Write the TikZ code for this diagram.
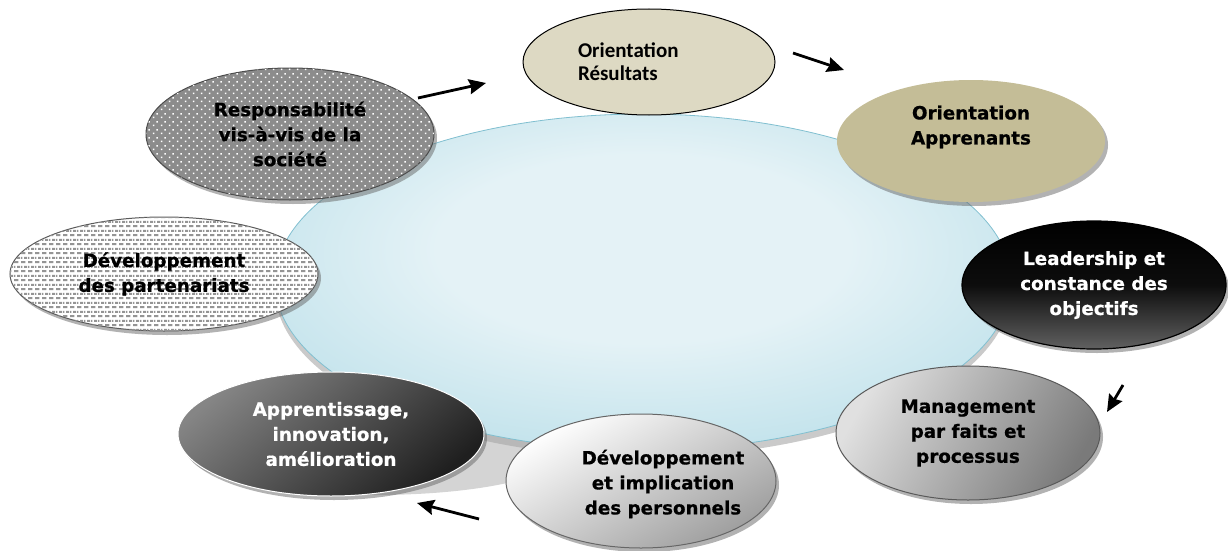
\documentclass[tikz,border=0pt]{standalone}
\usepackage{fontspec}
\setmainfont{DejaVu Sans}[BoldFeatures={FakeBold=0.7}]
\newfontfamily\calibri{Carlito}
\usetikzlibrary{shapes.geometric,shadows,patterns,arrows.meta}

\definecolor{hubIn}{HTML}{E4F2F6}
\definecolor{hubOut}{HTML}{97CFDE}
\definecolor{hubRim}{HTML}{80BFD0}
\definecolor{tanLight}{HTML}{DDD9C3}
\definecolor{tanDark}{HTML}{C4BD97}

\pgfdeclareradialshading{hubshade}{\pgfpoint{0bp}{6bp}}{color(0bp)=(hubIn); color(14bp)=(hubIn); color(50bp)=(hubOut); color(80bp)=(hubOut)}

% rows of short dashes, staggered
\pgfdeclarepatternformonly{dashbrick}{\pgfpointorigin}{\pgfpoint{7pt}{8.6pt}}{\pgfpoint{7pt}{8.6pt}}{
  \pgfpathrectangle{\pgfpoint{0pt}{1pt}}{\pgfpoint{5pt}{2pt}}
  \pgfpathrectangle{\pgfpoint{3.5pt}{5.3pt}}{\pgfpoint{3.5pt}{2pt}}
  \pgfpathrectangle{\pgfpoint{0pt}{5.3pt}}{\pgfpoint{1.5pt}{2pt}}
  \pgfusepath{fill}}
% small square dots, staggered
\pgfdeclarepatternformonly{dotgrid}{\pgfpointorigin}{\pgfpoint{8pt}{8pt}}{\pgfpoint{8pt}{8pt}}{
  \pgfpathrectangle{\pgfpoint{1pt}{1pt}}{\pgfpoint{1.6pt}{1.6pt}}
  \pgfpathrectangle{\pgfpoint{5pt}{5pt}}{\pgfpoint{1.6pt}{1.6pt}}
  \pgfusepath{fill}}

\begin{document}
\begin{tikzpicture}[x=1pt, y=-1pt,
    >={Stealth[length=17pt, width=15pt, inset=2pt]},
    blob/.style={ellipse, inner sep=0pt, align=center,
        font=\fontsize{18.3pt}{25pt}\selectfont\bfseries},
    castshadow/.style={drop shadow={shadow xshift=3pt, shadow yshift=-4pt, fill=black!60, opacity=0.5}},
    flow/.style={->, line width=2.8pt}]

    \useasboundingbox (0,0) rectangle (1228,551);

    % grey shadow under the big ellipse (bottom left)
    \fill[black!17] (375,455) ellipse [x radius=185, y radius=40];

    % the big ellipse in the middle
    \node[ellipse, minimum width=736pt, minimum height=336pt, shade, shading=hubshade,
        draw=hubRim, line width=0.8pt,
        drop shadow={shadow xshift=0pt, shadow yshift=-7pt, fill=black!35, opacity=0.6}]
        (hub) at (643,282) {};

    % top: Orientation Resultats
    \node[blob, draw=black, line width=1pt, fill=tanLight,
        minimum width=252pt, minimum height=106pt, text width=142pt, align=left,
        font=\calibri\fontsize{21pt}{23pt}\selectfont\bfseries]
        (resultats) at (649,62) {Orientation\\Résultats};

    % top right: Orientation Apprenants
    \node[blob, fill=tanDark, castshadow, minimum width=268pt, minimum height=122pt]
        (apprenants) at (971,141) {Orientation\\Apprenants\\[7pt]\mbox{}};

    % right: Leadership
    \node[blob, draw=black, line width=1.2pt, top color=black, bottom color=black!62,
        middle color=black!95, text=white, castshadow,
        minimum width=264pt, minimum height=128pt]
        (leadership) at (1094,285) {Leadership et\\constance des\\objectifs};

    % bottom right: Management
    \node[blob, draw=black!65, line width=1pt, top color=black!12, bottom color=black!52,
        shading angle=60, castshadow, minimum width=264pt, minimum height=134pt]
        (management) at (968,433) {Management\\par faits et\\processus};

    % bottom: Developpement des personnels (text sits right of centre)
    \node[ellipse, draw=black!60, line width=1pt, top color=white, bottom color=black!38,
        shading angle=30, castshadow, minimum width=270pt, minimum height=134pt]
        (personnels) at (641,481) {};
    \node[blob] (personnelsTxt) at (663,484) {Développement\\et implication\\des personnels};

    % bottom left: Apprentissage
    \node[blob, draw=white, line width=1pt, top color=black!48, bottom color=black!88,
        shading angle=40, text=white, castshadow, minimum width=306pt, minimum height=124pt]
        (apprentissage) at (331,434) {Apprentissage,\\innovation,\\amélioration};

    % left: Developpement des partenariats
    \node[blob, draw=black!65, line width=1pt, fill=white,
        postaction={pattern=dashbrick, pattern color=black!42},
        castshadow, minimum width=308pt, minimum height=114pt]
        (partenariats) at (164,274) {Développement\\des partenariats};

    % top left: Responsabilite
    \node[blob, draw=black!70, line width=1pt, fill=black!45,
        postaction={pattern=dotgrid, pattern color=white},
        castshadow, minimum width=288pt, minimum height=132pt]
        (societe) at (290,134) {Responsabilité\\vis-à-vis de la\\société};

    % the four arrows round the ring
    \coordinate (s1) at (418,98);   \coordinate (e1) at (486,83);
    \coordinate (s2) at (793,53);   \coordinate (e2) at (844,70);
    \coordinate (s3) at (1123,385); \coordinate (e3) at (1107,412);
    \coordinate (s4) at (479,519);  \coordinate (e4) at (417,503);
    \draw[flow] (s1) -- (e1);
    \draw[flow] (s2) -- (e2);
    \draw[flow] (s3) -- (e3);
    \draw[flow] (s4) -- (e4);
\end{tikzpicture}
\end{document}
